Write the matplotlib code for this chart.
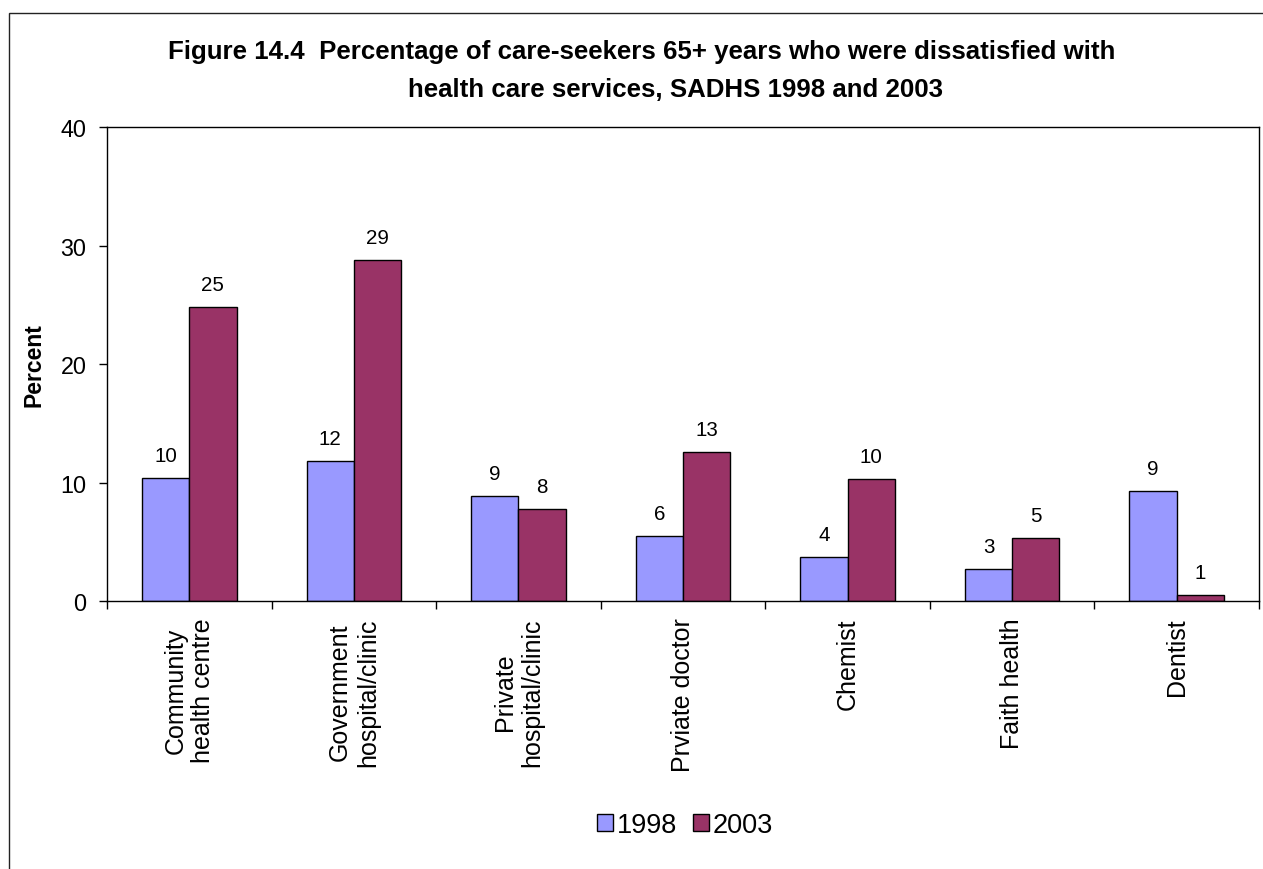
import matplotlib
matplotlib.use("Agg")
import matplotlib.pyplot as plt
from matplotlib.patches import Rectangle
import numpy as np

categories = ["Community\nhealth centre", "Government\nhospital/clinic", "Private\nhospital/clinic",
              "Prviate doctor", "Chemist", "Faith health", "Dentist"]
values_1998 = [10.4, 11.8, 8.9, 5.5, 3.7, 2.7, 9.3]
values_2003 = [24.8, 28.8, 7.8, 12.6, 10.3, 5.35, 0.5]
labels_1998 = ["10", "12", "9", "6", "4", "3", "9"]
labels_2003 = ["25", "29", "8", "13", "10", "5", "1"]
series_names = ["1998", "2003"]
yticks = [0, 10, 20, 30, 40]

plt.rcParams['font.family'] = ['Liberation Sans', 'DejaVu Sans']

W, H = 1263, 870
fig = plt.figure(figsize=(W / 100, H / 100), dpi=100)
ax = fig.add_axes([107 / W, 1 - 602.3 / H, (1259 - 107) / W, (602.3 - 128) / H])

x = np.arange(len(categories))
bw = 0.287
b1 = ax.bar(x - bw / 2, values_1998, bw, color="#9999FF", edgecolor="black", linewidth=1.0, label=series_names[0])
b2 = ax.bar(x + bw / 2, values_2003, bw, color="#993366", edgecolor="black", linewidth=1.0, label=series_names[1])

for bars, labs in ((b1, labels_1998), (b2, labels_2003)):
    for rect, lab in zip(bars, labs):
        ax.annotate(lab, (rect.get_x() + rect.get_width() / 2, rect.get_height()),
                    xytext=(0, 12.2), textcoords="offset points",
                    ha="center", va="baseline", fontsize=14.8)

ax.set_xlim(-0.5, len(categories) - 0.5)
ax.set_ylim(0, 40)
ax.set_yticks(yticks)
ax.set_yticklabels([str(t) for t in yticks], fontsize=16.8)
ax.tick_params(axis="y", direction="out", length=5.8, width=1.0, pad=9)

ax.set_xticks(x)
ax.set_xticklabels(categories, rotation=90, fontsize=18, multialignment="center",
                   ha="center", va="top")
ax.tick_params(axis="x", which="major", length=0, pad=11.5)
ax.set_xticks(np.arange(len(categories) + 1) - 0.5, minor=True)
ax.tick_params(axis="x", which="minor", direction="out", length=5.8, width=1.0)

for s in ax.spines.values():
    s.set_linewidth(1.0)
    s.set_color("black")

ax.set_ylabel("Percent", fontsize=16.5, fontweight="bold")
ax.yaxis.label.set_va("center")
ax.yaxis.set_label_coords(-(107 - 34) / (1259 - 107), 0.5)

fig.text(642 / W, 1 - 58.5 / H, "Figure 14.4  Percentage of care-seekers 65+ years who were dissatisfied with",
         ha="center", va="baseline", fontsize=18.6, fontweight="bold")
fig.text(676 / W, 1 - 97 / H, "health care services, SADHS 1998 and 2003",
         ha="center", va="baseline", fontsize=18.6, fontweight="bold")

fig.legend(handles=[b1, b2], labels=series_names, loc="center", bbox_to_anchor=(685 / W, 1 - 826 / H),
           ncol=2, frameon=False, fontsize=19.5, handlelength=0.6, handleheight=0.6,
           handletextpad=0.12, columnspacing=0.6, borderpad=0)

border = Rectangle((9 / W, -0.5), 2.0, 0.5 + (1 - 14 / H), transform=fig.transFigure,
                   fill=False, edgecolor="#222222", linewidth=1.0, clip_on=False)
fig.add_artist(border)

fig.savefig("out.png", dpi=100)
